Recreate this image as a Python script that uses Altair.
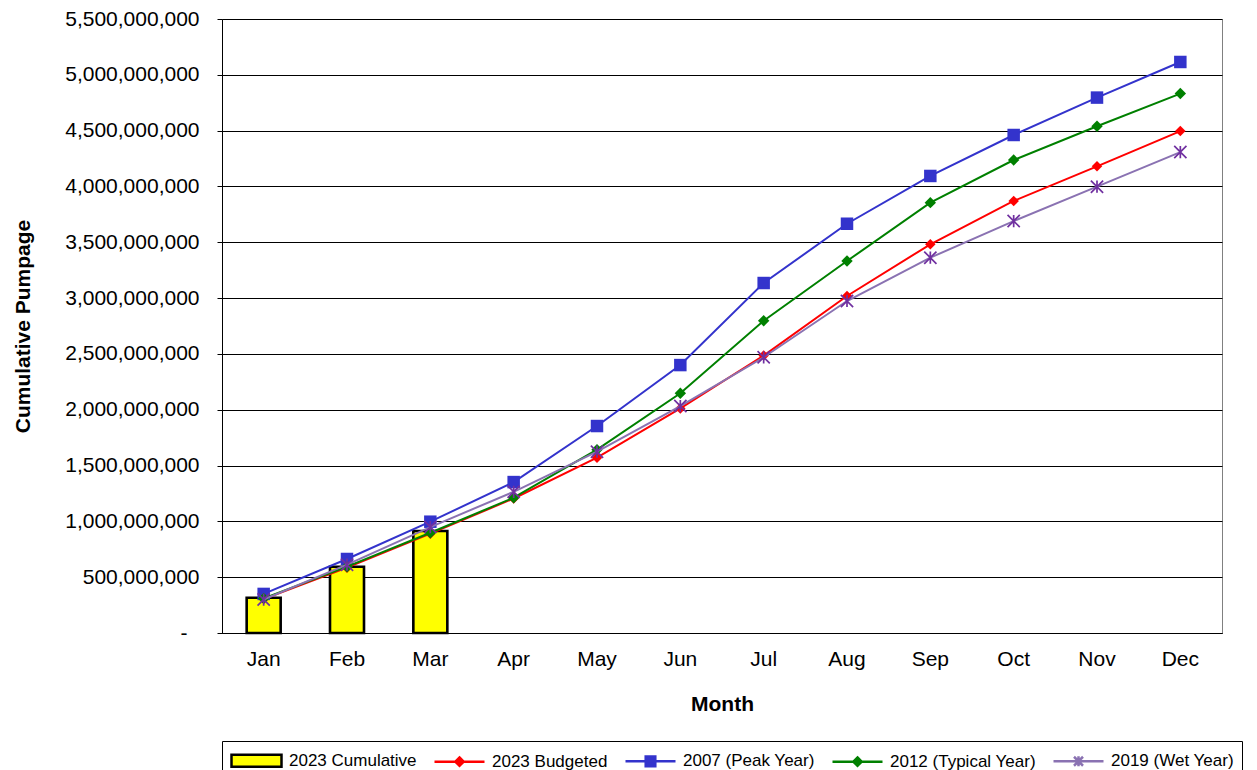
import altair as alt
import pandas as pd

# ---------------- data ----------------
months = ["Jan", "Feb", "Mar", "Apr", "May", "Jun", "Jul", "Aug", "Sep", "Oct", "Nov", "Dec"]
cum_2023 = [316e6, 594e6, 914e6]
budget_2023 = [305e6, 585e6, 890e6, 1205e6, 1570e6, 2012e6, 2485e6, 3019e6, 3482e6, 3870e6, 4180e6, 4496e6]
peak_2007 = [350e6, 663e6, 997e6, 1352e6, 1854e6, 2400e6, 3135e6, 3666e6, 4094e6, 4461e6, 4796e6, 5115e6]
typical_2012 = [310e6, 594e6, 898e6, 1212e6, 1642e6, 2147e6, 2797e6, 3332e6, 3855e6, 4237e6, 4539e6, 4832e6]
wet_2019 = [300e6, 612e6, 949e6, 1265e6, 1624e6, 2033e6, 2470e6, 2974e6, 3362e6, 3690e6, 3998e6, 4308e6]
y_ticks = [0, 5e8, 1e9, 1.5e9, 2e9, 2.5e9, 3e9, 3.5e9, 4e9, 4.5e9, 5e9, 5.5e9]
legend_names = ["2023 Cumulative", "2023 Budgeted", "2007 (Peak Year)", "2012 (Typical Year)", "2019 (Wet Year)"]

# ---------------- styles ----------------
FONT = "Liberation Sans"
ASTERISK = "M-1,-1L1,1M-1,1L1,-1M0,-1L0,1"
series_styles = [
    # name, values, line colour, marker colour, shape, size, filled
    ("2023 Budgeted", budget_2023, "#FF0000", "#FF0000", "diamond", 110, True),
    ("2007 (Peak Year)", peak_2007, "#3333CC", "#3333CC", "square", 156, True),
    ("2012 (Typical Year)", typical_2012, "#008000", "#008000", "diamond", 130, True),
    ("2019 (Wet Year)", wet_2019, "#8A72B2", "#7030A0", ASTERISK, 150, False),
]
# legend symbols: unit = 10 px (symbolSize 400); drawn from x=-1 to x=4 (50 px wide)
legend_paths = [
    "M-1,-0.6H4V0.6H-1Z",
    "M-1,0H4M1.5,-0.42L1.92,0L1.5,0.42L1.08,0Z",
    "M-1,0H4M1.02,-0.48H1.98V0.48H1.02Z",
    "M-1,0H4M1.5,-0.42L1.92,0L1.5,0.42L1.08,0Z",
    "M-1,0H4M1.05,-0.45L1.95,0.45M1.05,0.45L1.95,-0.45M1.5,-0.5V0.5",
]
legend_fills = ["#FFFF00", "#FF0000", "#3333CC", "#008000", "#7030A0"]
legend_strokes = ["#000000", "#FF0000", "#3333CC", "#008000", "#8A72B2"]

x_enc = alt.X(
    "month:N",
    scale=alt.Scale(domain=months, paddingInner=0, paddingOuter=0),
    axis=alt.Axis(title="Month", labelAngle=0, ticks=False, labelPadding=15, titlePadding=24,
                  grid=False),
)
y_enc = alt.Y(
    "value:Q",
    scale=alt.Scale(domain=[0, 5.5e9], nice=False),
    axis=alt.Axis(
        title="Cumulative Pumpage",
        values=y_ticks,
        labelExpr="datum.value == 0 ? '-' : format(datum.value, ',')",
        tickSize=5,
        labelPadding={"condition": {"test": "datum.value == 0", "value": 30}, "value": 18},
        titlePadding=31,
        grid=True,
    ),
)

bar_df = pd.DataFrame({"month": months[: len(cum_2023)], "value": cum_2023})
bars = alt.Chart(bar_df).mark_bar(
    color="#FFFF00", stroke="#000000", strokeWidth=2.6, size=34
).encode(x=x_enc, y=y_enc)

layers = [bars]
for name, vals, lcol, mcol, shape, size, filled in series_styles:
    df = pd.DataFrame({"month": months, "value": vals, "mi": list(range(len(months)))})
    line = alt.Chart(df).mark_line(color=lcol, strokeWidth=2).encode(
        x=x_enc, y=y_enc, order=alt.Order("mi:Q")
    )
    if filled:
        pts = alt.Chart(df).mark_point(shape=shape, size=size, filled=True, fill=mcol,
                                       opacity=1, strokeWidth=0)
    else:
        pts = alt.Chart(df).mark_point(shape=shape, size=size, filled=False, stroke=mcol,
                                       strokeWidth=1.7, opacity=1)
    layers += [line, pts.encode(x=x_enc, y=y_enc)]

legend_def = alt.Legend(
    orient="none", legendX=0, legendY=722, direction="horizontal", columns=5,
    title=None, symbolSize=400, symbolStrokeWidth=2.5, labelFontSize=17,
    labelOffset=36, columnPadding=12, padding=8, strokeColor="#000000",
    fillColor="#FFFFFF", labelColor="#000000", labelFont=FONT, labelLimit=400,
)
legend_df = pd.DataFrame({"series": legend_names})
legend_layer = alt.Chart(legend_df).transform_filter("false").mark_point(opacity=1).encode(
    shape=alt.Shape("series:N", scale=alt.Scale(domain=legend_names, range=legend_paths), legend=legend_def),
    fill=alt.Fill("series:N", scale=alt.Scale(domain=legend_names, range=legend_fills), legend=legend_def),
    stroke=alt.Stroke("series:N", scale=alt.Scale(domain=legend_names, range=legend_strokes), legend=legend_def),
)
layers.append(legend_layer)

chart = (
    alt.layer(*layers)
    .properties(width=1000, height=614, padding={"left": 4, "top": 0, "right": 0, "bottom": 0},
                background="white")
    .configure(font=FONT)
    .configure_view(stroke="#808080", strokeWidth=1)
    .configure_axis(
        labelFont=FONT, labelFontSize=21, labelColor="#000000",
        titleFont=FONT, titleFontSize=21, titleFontWeight="bold", titleColor="#000000",
        domainColor="#000000", domainWidth=1, tickColor="#000000",
        gridColor="#000000", gridWidth=1, gridOpacity=1,
    )
)

chart.save("out.html", embed_options={"renderer": "svg", "actions": False})
